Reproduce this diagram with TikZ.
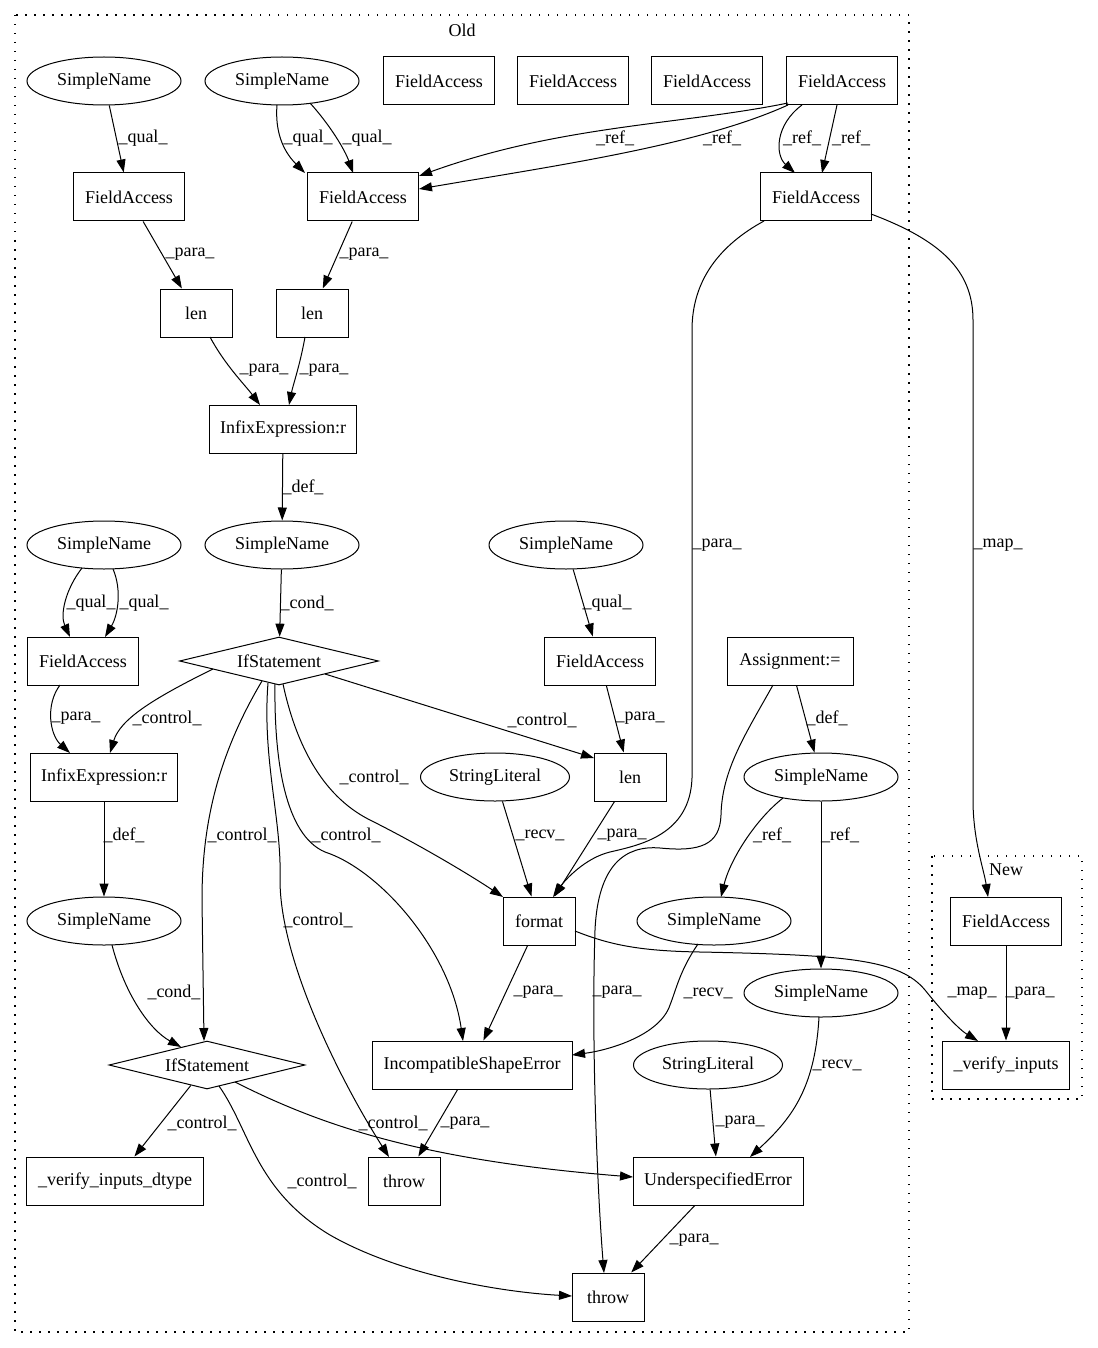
\documentclass[tikz,border=0pt]{standalone}
\usepackage{fontspec}
\setmainfont{Liberation Serif}
\usetikzlibrary{arrows.meta,shapes.geometric,calc}
\begin{document}
\begin{tikzpicture}[x=1pt,y=-1pt,
  every node/.style={font=\fontsize{18pt}{20pt}\selectfont},
  box/.style={draw,line width=1pt,rectangle,minimum height=48pt,inner sep=0pt,minimum width=#1pt},
  box/.default=111,
  ell/.style={draw,line width=1pt,ellipse,minimum height=48pt,inner sep=0pt,minimum width=#1pt},
  ell/.default=154,
  dia/.style={draw,line width=1pt,diamond,aspect=4,inner sep=0pt,minimum height=48pt,minimum width=#1pt},
  lbl/.style={inner sep=0pt},
  edge/.style={draw,line width=1pt,-{Triangle[length=13pt,width=9pt]}},
  cluster/.style={draw,line width=1.1pt,dash pattern=on 1.5pt off 7.5pt},
]
\fill[white] (0,0) rectangle (1097,1348);
\useasboundingbox (0,0) rectangle (1097,1348);

% clusters
\draw[cluster] (15,15) rectangle (909,1332);
\node[lbl] (oldlbl) at (462,30) {Old};
\draw[cluster] (932,856) rectangle (1082,1099);
\node[lbl] (newlbl) at (1006,870) {New};

% nodes
\node[ell] (sn1) at (104,81) {SimpleName};
\node[ell] (sn2) at (282,81) {SimpleName};
\node[box] (faA) at (439,81) {FieldAccess};
\node[box] (faB) at (573,81) {FieldAccess};
\node[box] (faC) at (707,81) {FieldAccess};
\node[box] (faD) at (842,81) {FieldAccess};
\node[box] (fa1) at (129,197) {FieldAccess};
\node[box] (fa2) at (363,197) {FieldAccess};
\node[box] (fa3) at (816,197) {FieldAccess};
\node[box=72] (len1) at (196,313) {len};
\node[box=72] (len2) at (312,313) {len};
\node[box=147] (infix1) at (283,429) {InfixExpression:r};
\node[ell] (sn4) at (104,545) {SimpleName};
\node[ell] (sn3) at (282,545) {SimpleName};
\node[ell] (sn5) at (566,545) {SimpleName};
\node[box] (fa4) at (83,661) {FieldAccess};
\node[dia=199] (if1) at (279,661) {IfStatement};
\node[box] (fa5) at (600,661) {FieldAccess};
\node[box=126] (asg) at (790,661) {Assignment:=};
\node[box=147] (infix2) at (104,777) {InfixExpression:r};
\node[ell=149] (sl1) at (495,777) {StringLiteral};
\node[box=72] (len3) at (630,777) {len};
\node[ell] (sn6) at (821,777) {SimpleName};
\node[ell] (sn7) at (104,921) {SimpleName};
\node[box=72] (fmt) at (539,921) {format};
\node[ell] (sn8) at (714,921) {SimpleName};
\node[box] (faN) at (1006,921) {FieldAccess};
\node[ell] (sn9) at (821,993) {SimpleName};
\node[dia=196] (if2) at (207,1065) {IfStatement};
\node[box=200] (ise) at (472,1065) {IncompatibleShapeError};
\node[ell=149] (sl2) at (708,1065) {StringLiteral};
\node[box=127] (vi) at (1006,1065) {\_verify\_inputs};
\node[box=177] (vid) at (115,1181) {\_verify\_inputs\_dtype};
\node[box=72] (thr1) at (404,1181) {throw};
\node[box=170] (ue) at (718,1181) {UnderspecifiedError};
\node[box=72] (thr2) at (608,1297) {throw};

% straight edges
\path[edge] (sn1) -- (fa1);
\path[edge] (fa1) -- (len1);
\path[edge] (fa2) -- (len2);
\path[edge] (infix1) -- (sn3);
\path[edge] (sn3) -- (if1);
\path[edge] (sn5) -- (fa5);
\path[edge] (fa5) -- (len3);
\path[edge] (asg) -- (sn6);
\path[edge] (infix2) -- (sn7);
\path[edge] (sl1) -- (fmt);
\path[edge] (len3) -- (fmt);
\path[edge] (fmt) -- (ise);
\path[edge] (faN) -- (vi);
\path[edge] (sn6) -- (sn9);
\path[edge] (sl2) -- (ue);
\path[edge] (ue) -- (thr2);
\path[edge] (ise) -- (thr1);
\path[edge] (if2) -- (vid);

% curved edges
\path[edge] ($(sn2)+(-5,24)$) .. controls (275,130) and (282,150) .. ($(fa2)+(-58,-24)$);
\path[edge] ($(sn2)+(28,22)$) .. controls (330,125) and (345,150) .. ($(fa2)+(-10,-24)$);
\path[edge] ($(faD)+(-54,22)$) .. controls (680,125) and (560,125) .. ($(fa2)+(56,-21)$);
\path[edge] ($(faD)+(-54,24)$) .. controls (700,145) and (560,165) .. ($(fa2)+(56,-8)$);
\path[edge] ($(faD)+(-40,24)$) .. controls (775,125) and (775,155) .. ($(fa3)+(-21,-24)$);
\path[edge] ($(faD)+(-5,24)$) -- ($(fa3)+(6,-24)$);
\path[edge] ($(len1)+(14,24)$) .. controls (225,365) and (245,385) .. ($(infix1)+(-23,-24)$);
\path[edge] ($(len2)+(-7,24)$) .. controls (300,365) and (293,385) .. ($(infix1)+(6,-24)$);
\path[edge] ($(sn4)+(-22,23)$) .. controls (65,590) and (60,615) .. ($(fa4)+(-13,-24)$);
\path[edge] ($(sn4)+(9,24)$) .. controls (122,590) and (118,615) .. ($(fa4)+(22,-24)$);
\path[edge] ($(fa4)+(-23,24)$) .. controls (45,705) and (50,735) .. ($(infix2)+(-34,-24)$);
\path[edge] ($(if1)+(-66,8)$) .. controls (150,700) and (120,720) .. ($(infix2)+(6,-24)$);
\path[edge] ($(if1)+(46,13)$) -- ($(len3)+(-36,-19)$);
\path[edge] ($(if1)+(4,23)$) .. controls (295,740) and (320,795) .. (370,820)
   .. controls (420,845) and (470,875) .. ($(fmt)+(-36,-24)$);
\path[edge] ($(if1)+(-4,23)$) .. controls (274,760) and (285,835) .. (325,852)
   .. controls (380,870) and (450,950) .. ($(ise)+(-9,-24)$);
\path[edge] ($(if1)+(-17,20)$) .. controls (215,760) and (202,830) .. (202,900) -- ($(if2)+(-3,-24)$);
\path[edge] ($(if1)+(-11,22)$) .. controls (262,760) and (282,820) .. (280,880)
   .. controls (280,960) and (340,1080) .. ($(thr1)+(-15,-24)$);
\path[edge] ($(asg)+(-17,24)$) .. controls (745,735) and (722,770) .. (721,815)
   .. controls (720,845) and (700,852) .. (660,848)
   .. controls (625,845) and (598,865) .. (595,930)
   .. controls (591,1050) and (598,1200) .. ($(thr2)+(-4,-24)$);
\path[edge] ($(fa3)+(-52,24)$) .. controls (720,245) and (692,280) .. (692,330) -- (692,778)
   .. controls (690,835) and (640,845) .. (610,852)
   .. controls (585,858) and (565,880) .. ($(fmt)+(14,-24)$);
\path[edge] ($(fa3)+(55,17)$) .. controls (940,240) and (973,270) .. (973,320) -- (973,800)
   .. controls (973,840) and (984,870) .. ($(faN)+(-18,-24)$);
\path[edge] ($(fmt)+(36,10)$) .. controls (610,945) and (640,951) .. (700,952)
   .. controls (850,955) and (900,960) .. (925,990)
   .. controls (945,1015) and (960,1030) .. ($(vi)+(-28,-24)$);
\path[edge] ($(sn6)+(-38,21)$) .. controls (755,820) and (730,860) .. ($(sn8)+(7,-24)$);
\path[edge] ($(sn8)+(-16,23)$) .. controls (680,970) and (676,990) .. (670,1005)
   .. controls (660,1035) and (610,1050) .. ($(ise)+(100,-10)$);
\path[edge] ($(sn9)+(-2,24)$) .. controls (815,1090) and (790,1120) .. ($(ue)+(32,-24)$);
\path[edge] ($(sn7)+(8,24)$) .. controls (125,995) and (150,1030) .. ($(if2)+(-26,-18)$);
\path[edge] ($(if2)+(12,21)$) .. controls (250,1130) and (255,1190) .. (330,1235)
   .. controls (400,1275) and (500,1292) .. ($(thr2)+(-36,-1)$);
\path[edge] ($(if2)+(28,17)$) .. controls (320,1125) and (420,1160) .. ($(ue)+(-85,-4)$);

% labels
\node[lbl] (l1) at (143,138) {\_qual\_};
\node[lbl] (l2) at (308,138) {\_qual\_};
\node[lbl] (l3) at (367,138) {\_qual\_};
\node[lbl] (l4) at (615,138) {\_ref\_};
\node[lbl] (l5) at (722,138) {\_ref\_};
\node[lbl] (l6) at (802,138) {\_ref\_};
\node[lbl] (l7) at (851,138) {\_ref\_};
\node[lbl] (l8) at (190,254) {\_para\_};
\node[lbl] (l9) at (364,254) {\_para\_};
\node[lbl] (l10) at (264,370) {\_para\_};
\node[lbl] (l11) at (324,370) {\_para\_};
\node[lbl] (l12) at (303,487) {\_def\_};
\node[lbl] (l13) at (307,603) {\_cond\_};
\node[lbl] (l14) at (91,603) {\_qual\_};
\node[lbl] (l15) at (144,603) {\_qual\_};
\node[lbl] (l16) at (607,603) {\_qual\_};
\node[lbl] (l17) at (717,545) {\_para\_};
\node[lbl] (l18) at (998,545) {\_map\_};
\node[lbl] (l19) at (76,718) {\_para\_};
\node[lbl] (l20) at (167,718) {\_control\_};
\node[lbl] (l21) at (542,720) {\_control\_};
\node[lbl] (l22) at (640,718) {\_para\_};
\node[lbl] (l23) at (827,718) {\_def\_};
\node[lbl] (l24) at (374,777) {\_control\_};
\node[lbl] (l25) at (124,835) {\_def\_};
\node[lbl] (l26) at (242,835) {\_control\_};
\node[lbl] (l27) at (346,835) {\_control\_};
\node[lbl] (l28) at (540,835) {\_recv\_};
\node[lbl] (l29) at (622,835) {\_para\_};
\node[lbl] (l30) at (772,835) {\_ref\_};
\node[lbl] (l31) at (840,835) {\_ref\_};
\node[lbl] (l32) at (318,920) {\_control\_};
\node[lbl] (l33) at (174,992) {\_cond\_};
\node[lbl] (l34) at (538,992) {\_para\_};
\node[lbl] (l35) at (617,992) {\_para\_};
\node[lbl] (l36) at (708,993) {\_recv\_};
\node[lbl] (l37) at (972,993) {\_map\_};
\node[lbl] (l38) at (1030,993) {\_para\_};
\node[lbl] (l39) at (837,1065) {\_recv\_};
\node[lbl] (l40) at (202,1123) {\_control\_};
\node[lbl] (l41) at (393,1123) {\_control\_};
\node[lbl] (l42) at (465,1123) {\_para\_};
\node[lbl] (l43) at (740,1122) {\_para\_};
\node[lbl] (l44) at (322,1181) {\_control\_};
\node[lbl] (l45) at (694,1240) {\_para\_};
\end{tikzpicture}
\end{document}
